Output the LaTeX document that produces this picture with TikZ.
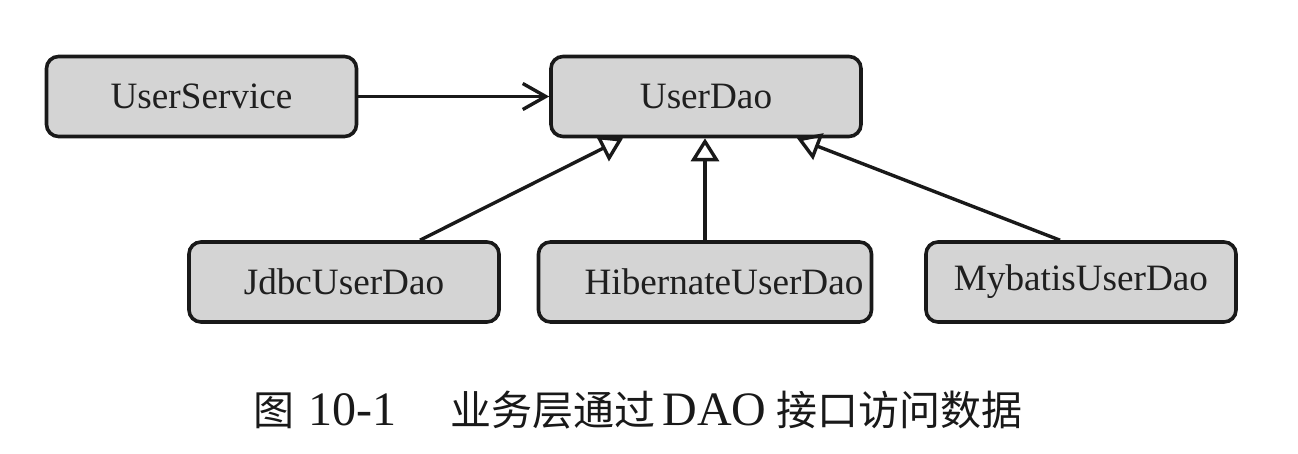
\documentclass[tikz,border=0pt]{standalone}
\usepackage{fontspec}
\setmainfont{Liberation Serif}
\newfontfamily\cjk{Noto Sans CJK SC}
\usetikzlibrary{arrows.meta}
\newcommand{\zh}[1]{{\cjk\fontsize{20.5}{24}\selectfont #1}}

\begin{document}
\begin{tikzpicture}[x=0.5pt,y=-0.5pt,
  box/.style={draw=black!90,line width=1.8pt,rounded corners=6pt,fill=black!17,
    minimum width=155pt,minimum height=40pt,inner sep=0pt,
    font=\fontsize{18.6}{22}\selectfont,text=black!88},
  impl/.style={draw=black!90,line width=1.7pt,-{Triangle[open,length=11.5pt,width=14pt]}},
  uses/.style={draw=black!90,line width=1.7pt,-{Straight Barb[length=11.5pt,width=13pt]}}]
\useasboundingbox (0,0) rectangle (1298,454);

\node[box] (service) at (201.5,96.5) {UserService};
\node[box] (dao) at (706,96.5) {UserDao};

\node[box] (jdbc) at (344,282) {JdbcUserDao};
\node[box,minimum width=166.5pt] (hib) at (705,282) {\hspace*{19pt}HibernateUserDao};
\node[box] (myb) at (1081,282) {MybatisUserDao};

\draw[uses] (service) -- (dao);
\draw[impl] ([xshift=38pt]jdbc.north) -- ([xshift=-41.5pt]dao.south);
\draw[impl] (hib.north) -- (hib.north |- dao.south);
\draw[impl] ([xshift=-10.5pt]myb.north) -- ([xshift=45.5pt]dao.south);

\node[font=\fontsize{24}{29}\selectfont,text=black!90] (caption) at (638,410)
  {\zh{图}\hspace{7pt}10-1\hspace{27pt}\zh{业务层通过}\hspace{3.5pt}DAO\hspace{5pt}\zh{接口访问数据}};
\end{tikzpicture}
\end{document}
